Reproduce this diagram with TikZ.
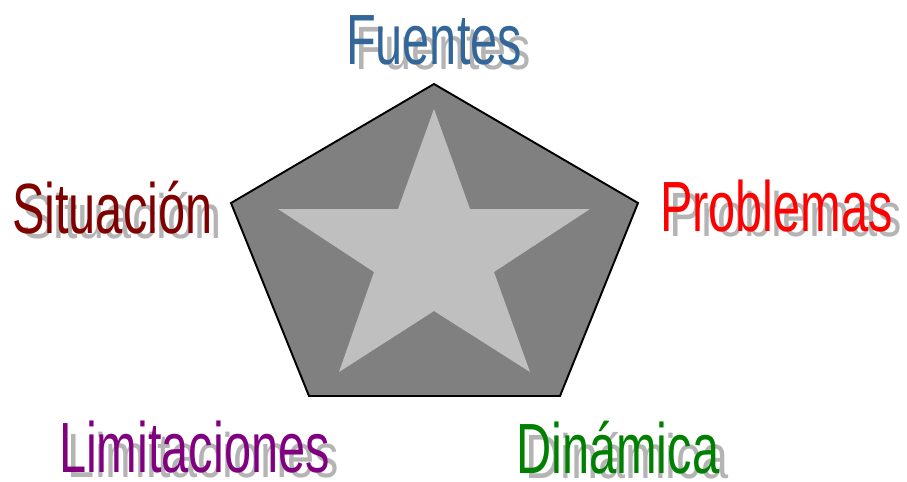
\documentclass[tikz,border=0pt]{standalone}
\usepackage{fontspec}
\usepackage{graphicx}
\usepackage{xcolor}
\usepackage{tikz}
\usetikzlibrary{calc}
\usetikzlibrary{positioning}

\newfontfamily\lblfont{Liberation Sans}[FakeStretch=0.685]

\definecolor{fuentesblue}{RGB}{51,102,153}
\definecolor{sitred}{RGB}{128,0,0}
\definecolor{limpurple}{RGB}{128,0,128}
\definecolor{dingreen}{RGB}{0,128,0}
\definecolor{shadowgray}{RGB}{180,180,180}

\begin{document}
\begin{tikzpicture}[
    x = .02cm,
    y = -.02cm,
    lbl/.style = {
      font=\lblfont\fontsize{40.5}{41}\selectfont,
      inner sep=0pt,
      outer sep=0pt,
      anchor=base west
    },
    shadowlbl/.style = {
      lbl,
      text=shadowgray
    },
    pentf/.style = {
      draw=black,
      fill=gray,
      line width=1.1pt,
      line join=miter
    },
    starf/.style = {
      fill=lightgray
    }
  ]
    \useasboundingbox (0,0) rectangle (907,481);

    % pentagon
    \coordinate (pt) at (434,84);
    \coordinate (pr) at (638,203);
    \coordinate (pbr) at (560,396);
    \coordinate (pbl) at (309,396);
    \coordinate (pl) at (231,203);
    \draw[pentf] (pt) -- (pr) -- (pbr) -- (pbl) -- (pl) -- cycle;

    % star
    \fill[starf] (434,109) -- (470,209) -- (590,209) -- (494,272)
      -- (530,372) -- (434,311) -- (339,372) -- (374,272)
      -- (278,209) -- (398,209) -- cycle;

    % labels, shadow first
    \node[shadowlbl] (fuentess) at (355,69) {\scalebox{1}[0.86]{Fuentes}};
    \node[lbl, text=fuentesblue] (fuentes) at (346,64) {Fuentes};

    \node[shadowlbl] (situacions) at (21,238) {\scalebox{1}[0.88]{Situación}};
    \node[lbl, text=sitred] (situacion) at (12,233) {Situación};

    \node[shadowlbl] (problemass) at (669,236) {\scalebox{1}[0.88]{Problemas}};
    \node[lbl, text=red] (problemas) at (660,231) {Problemas};

    \node[shadowlbl] (limitacioness) at (68,477) {\scalebox{1}[0.88]{Limitaciones}};
    \node[lbl, text=limpurple] (limitaciones) at (59,472) {Limitaciones};

    \node[shadowlbl] (dinamicas) at (525,478) {\scalebox{1}[0.88]{Dinámica}};
    \node[lbl, text=dingreen] (dinamica) at (516,473) {Dinámica};

  \end{tikzpicture}
\end{document}
